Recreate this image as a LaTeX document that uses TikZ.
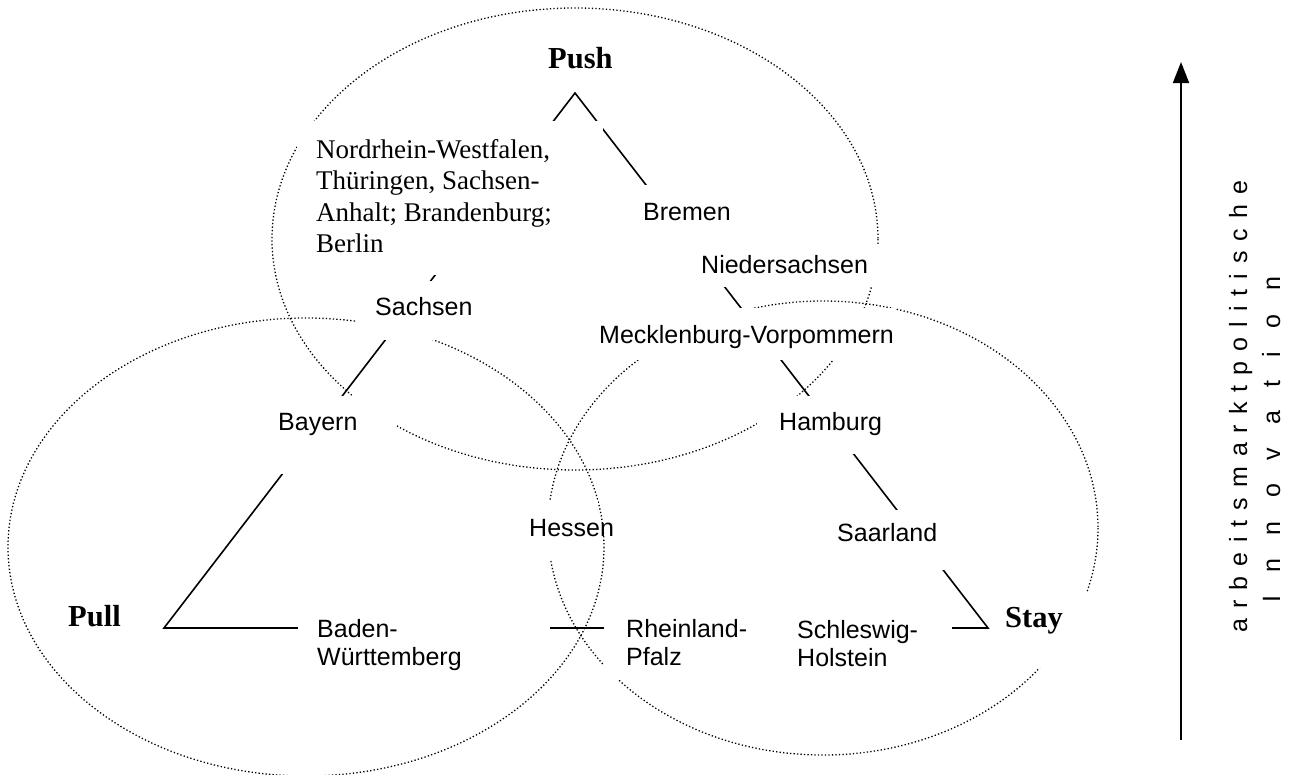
\documentclass[tikz,border=0pt]{standalone}
\usepackage{fontspec}
\setmainfont{Liberation Serif}
\newfontfamily\arialf{Liberation Sans}
\usetikzlibrary{arrows.meta}
\newcommand\lsp{\hspace{10pt}}
\newcommand\wsp{\hspace{23.4pt}}
\begin{document}
\begin{tikzpicture}[x=1pt,y=-1pt,
  oval/.style={line width=1.3pt, dash pattern=on 1.3pt off 2.2pt},
  link/.style={line width=1.6pt, line join=miter},
  mask/.style={fill=white, draw=none},
  sf/.style={font=\arialf\fontsize{25}{28.5}\selectfont, inner sep=0, anchor=base west},
  tm/.style={font=\fontsize{27}{31.5}\selectfont, inner sep=0, anchor=base west},
  corner/.style={font=\bfseries\fontsize{30.5}{34}\selectfont, inner sep=0, anchor=base west}]
\useasboundingbox (0,0) rectangle (1297,774);
% ovals
\draw[oval] (575,239) ellipse [x radius=303, y radius=231];
\draw[oval] (306,547) ellipse [x radius=298, y radius=229];
\draw[oval] (823,528) ellipse [x radius=275, y radius=227];
% triangle
\coordinate (pushapex) at (575,93);
\coordinate (pullapex) at (164,628);
\coordinate (stayapex) at (988,628);
\draw[link] (pullapex) -- (pushapex) -- (stayapex) -- cycle;
% white label boxes
\fill[mask] (297,121) rectangle (603,275);
\fill[mask] (357,281) rectangle (480,340);
\fill[mask] (255,396) rectangle (397,474);
\fill[mask] (628,185) rectangle (780,245);
\fill[mask] (690,245) rectangle (885,287);
\fill[mask] (590,308) rectangle (895,360);
\fill[mask] (757,396) rectangle (905,454);
\fill[mask] (526,500) rectangle (598,560);
\fill[mask] (830,510) rectangle (960,570);
\fill[mask] (298,600) rectangle (550,675);
\fill[mask] (604,600) rectangle (952,680);
\fill[mask] (990,592) rectangle (1105,668);
% labels
\node[corner] (push) at (548,68) {Push};
\node[corner] (pull) at (68,626) {Pull};
\node[corner] (stay) at (1005,627) {Stay};
\node[tm] (nrw) at (316,158) {\parbox[t]{290pt}{\raggedright Nordrhein-Westfalen,\\Thüringen, Sachsen-\\Anhalt; Brandenburg;\\Berlin}};
\node[sf] (bremen) at (643,220) {Bremen};
\node[sf] (nieders) at (701,273) {Niedersachsen};
\node[sf] (sachsen) at (375,315) {Sachsen};
\node[sf] (mv) at (599,343) {Mecklenburg-Vorpommern};
\node[sf] (bayern) at (278,430) {Bayern};
\node[sf] (hamburg) at (779,430) {Hamburg};
\node[sf] (hessen) at (529,536) {Hessen};
\node[sf] (saarland) at (837,541) {Saarland};
\node[sf] (bw) at (317,637) {\parbox[t]{200pt}{\raggedright Baden-\\Württemberg}};
\node[sf] (rp) at (626,637) {\parbox[t]{150pt}{\raggedright Rheinland-\\Pfalz}};
\node[sf] (sh) at (797,638) {\parbox[t]{150pt}{\raggedright Schleswig-\\Holstein}};
% axis
\coordinate (axisfoot) at (1181,740);
\coordinate (axistip) at (1181,62);
\draw[line width=1.8pt, -{Triangle[length=21pt,width=16pt]}] (axisfoot) -- (axistip);
\node[sf, rotate=90] (axisa) at (1247,633) {a\lsp r\lsp b\lsp e\lsp i\lsp t\lsp s\lsp m\lsp a\lsp r\lsp k\lsp t\lsp p\lsp o\lsp l\lsp i\lsp t\lsp i\lsp s\lsp c\lsp h\lsp e};
\node[sf, rotate=90] (axisb) at (1280,603) {I\wsp n\wsp n\wsp o\wsp v\wsp a\wsp t\wsp i\wsp o\wsp n};
\end{tikzpicture}
\end{document}
